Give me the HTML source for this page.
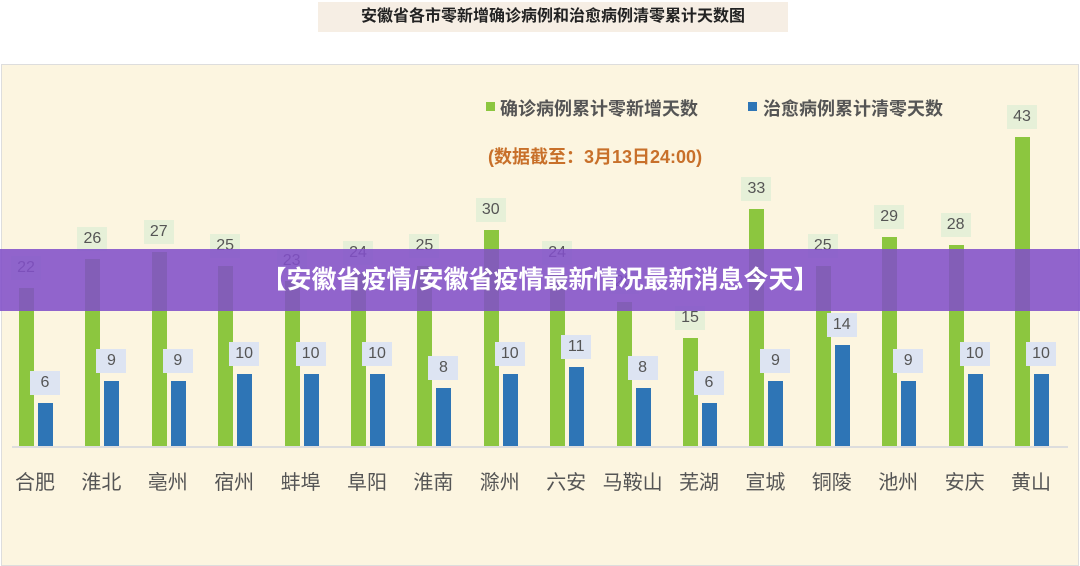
<!DOCTYPE html>
<html><head><meta charset="utf-8"><style>
body{margin:0;width:1080px;height:560px;background:#fff;position:relative;overflow:hidden;font-family:"Liberation Sans","Noto Sans CJK SC",sans-serif}
.a{position:absolute}
#panel{left:1px;top:64px;width:1076px;height:500px;background:#fcf5e0;border:1px solid #ddd}
.lb{position:absolute;height:24px;line-height:24px;text-align:center;font-size:16px;color:#555;width:30px}
.city{position:absolute;top:466px;width:66px;text-align:center;font-size:20px;color:#555}
</style></head><body>
<div class="a" style="left:318px;top:2px;width:470px;height:30px;background:#f6eee4;text-align:center;line-height:30px;font-size:16px;font-weight:bold;color:#222">安徽省各市零新增确诊病例和治愈病例清零累计天数图</div>
<div class="a" id="panel"></div>
<div class="a" style="left:486px;top:102px;width:9px;height:9px;background:#8cc63f"></div>
<div class="a" style="left:500px;top:95px;font-size:18px;font-weight:bold;color:#555">确诊病例累计零新增天数</div>
<div class="a" style="left:748px;top:102px;width:9px;height:9px;background:#2e75b6"></div>
<div class="a" style="left:763px;top:95px;font-size:18px;font-weight:bold;color:#555">治愈病例累计清零天数</div>
<div class="a" style="left:488px;top:143px;font-size:18px;font-weight:bold;color:#c8702a">(数据截至：3月13日24:00)</div>
<div class="a" style="left:12px;top:446px;width:1056px;height:2px;background:#ddd"></div>
<div id="bars"></div>
<div class="a" style="left:0;top:249px;width:1080px;height:62px;background:rgba(130,80,200,0.88);color:#fff;font-size:25px;font-weight:bold;text-align:center;line-height:62px">【安徽省疫情/安徽省疫情最新情况最新消息今天】</div>
<script>
var g=[22,26,27,25,23,24,25,30,24,20,15,33,25,29,28,43],b=[6,9,9,10,10,10,8,10,11,8,6,9,14,9,10,10];
var c=["合肥","淮北","亳州","宿州","蚌埠","阜阳","淮南","滁州","六安","马鞍山","芜湖","宣城","铜陵","池州","安庆","黄山"];
var h="",k=7.19;
for(var i=0;i<16;i++){var x=19+i*66.4;
var hg=g[i]*k,hb=b[i]*k;
h+='<div class="a" style="left:'+x+'px;top:'+(446-hg)+'px;width:15px;height:'+hg+'px;background:#8cc63f"></div>';
h+='<div class="a" style="left:'+(x+19)+'px;top:'+(446-hb)+'px;width:15px;height:'+hb+'px;background:#2e75b6"></div>';
h+='<div class="lb" style="left:'+(x-8)+'px;top:'+(446-hg-32)+'px;background:#e6f0d8">'+g[i]+'</div>';
h+='<div class="lb" style="left:'+(x+11)+'px;top:'+(446-hb-32)+'px;background:#dde4f2">'+b[i]+'</div>';
h+='<div class="city" style="left:'+(x-17)+'px">'+c[i]+'</div>';}
document.getElementById("bars").innerHTML=h;
</script>
</body></html>
